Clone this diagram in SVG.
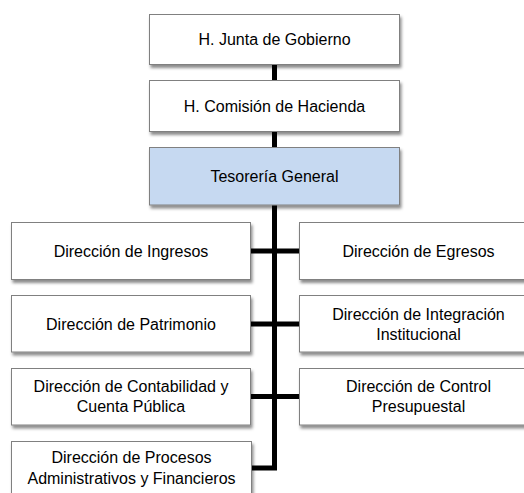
<svg xmlns="http://www.w3.org/2000/svg" width="524" height="493" viewBox="0 0 524 493">
<style>
.box{fill:#ffffff;stroke:#808080;stroke-width:1;filter:url(#sh)}
.blue{fill:#c6d9f1}
text{font-family:"Liberation Sans",Arial,sans-serif;font-size:16px;fill:#000;text-anchor:middle}
.con{stroke:#000;stroke-width:5;fill:none;stroke-linejoin:miter}
</style>
<defs>
<filter id="sh" x="-10%" y="-20%" width="120%" height="150%">
<feDropShadow dx="1.5" dy="3" stdDeviation="1.6" flood-color="#000" flood-opacity="0.45"/>
</filter>
</defs>
<rect width="524" height="493" fill="#ffffff"/>
<g id="connectors">
<line class="con" x1="274.5" y1="64" x2="274.5" y2="81"/>
<line class="con" x1="274.5" y1="131" x2="274.5" y2="148"/>
<path class="con" d="M274.5 205 V468 H251"/>
<line class="con" x1="250" y1="251" x2="299" y2="251"/>
<line class="con" x1="250" y1="324" x2="299" y2="324"/>
<line class="con" x1="250" y1="396.5" x2="299" y2="396.5"/>
</g>
<g id="junta">
<rect class="box" x="149.5" y="14.5" width="250" height="50"/>
<text x="274.5" y="45">H. Junta de Gobierno</text>
</g>
<g id="comision">
<rect class="box" x="149.5" y="80.5" width="250" height="51"/>
<text x="274.5" y="111.5">H. Comisión de Hacienda</text>
</g>
<g id="tesoreria">
<rect class="box blue" x="149.5" y="147.5" width="250" height="57.5"/>
<text x="274.5" y="181.7">Tesorería General</text>
</g>
<g id="ingresos">
<rect class="box" x="11.5" y="222.5" width="239" height="57"/>
<text x="131" y="256.7">Dirección de Ingresos</text>
</g>
<g id="egresos">
<rect class="box" x="299.5" y="222.5" width="239" height="57"/>
<text x="418.5" y="256.7">Dirección de Egresos</text>
</g>
<g id="patrimonio">
<rect class="box" x="11.5" y="295.5" width="239" height="56.5"/>
<text x="131" y="329.7">Dirección de Patrimonio</text>
</g>
<g id="integracion">
<rect class="box" x="299.5" y="295.5" width="239" height="56.5"/>
<text x="418.5" y="319.5">Dirección de Integración</text>
<text x="418.5" y="339.5">Institucional</text>
</g>
<g id="contabilidad">
<rect class="box" x="11.5" y="368.5" width="239" height="56.5"/>
<text x="131" y="391.7">Dirección de Contabilidad y</text>
<text x="131" y="411.7">Cuenta Pública</text>
</g>
<g id="control">
<rect class="box" x="299.5" y="368.5" width="239" height="56.5"/>
<text x="418.5" y="391.7">Dirección de Control</text>
<text x="418.5" y="411.7">Presupuestal</text>
</g>
<g id="procesos">
<rect class="box" x="11.5" y="441.5" width="240" height="57"/>
<text x="131.5" y="463.3">Dirección de Procesos</text>
<text x="131.5" y="484.3">Administrativos y Financieros</text>
</g>
</svg>
